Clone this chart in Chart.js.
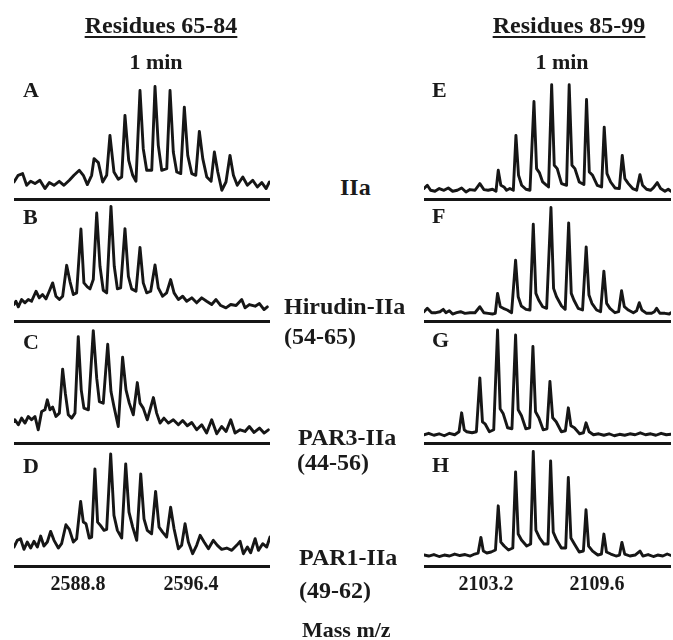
<!DOCTYPE html>
<html><head><meta charset="utf-8">
<script src="https://cdn.jsdelivr.net/npm/chart.js@4/dist/chart.umd.min.js"></script>
<style>
html,body{margin:0;padding:0;background:#fff;}
#wrap{position:relative;width:673px;height:640px;overflow:hidden;background:#fff;}
canvas{position:absolute;top:0;}
.t{position:absolute;font-family:"Liberation Serif","Times New Roman",serif;font-weight:bold;color:#1a1a1a;line-height:1;white-space:nowrap;z-index:2;}
.c{transform:translateX(-50%);}
.u{text-decoration:underline;text-decoration-thickness:2px;text-underline-offset:3px;}
</style></head>
<body><div id="wrap">
<canvas id="cl" width="285" height="640" style="left:0px"></canvas>
<canvas id="cr" width="273" height="640" style="left:400px"></canvas>
<div class="t c u" style="left:161px;top:13px;font-size:24px">Residues 65-84</div>
<div class="t c u" style="left:569px;top:13px;font-size:24px">Residues 85-99</div>
<div class="t c" style="left:156px;top:51px;font-size:22px">1 min</div>
<div class="t c" style="left:562px;top:51px;font-size:22px">1 min</div>
<div class="t" style="left:23px;top:79px;font-size:22px">A</div>
<div class="t" style="left:23px;top:206px;font-size:22px">B</div>
<div class="t" style="left:23px;top:331px;font-size:22px">C</div>
<div class="t" style="left:23px;top:455px;font-size:22px">D</div>
<div class="t" style="left:432px;top:79px;font-size:22px">E</div>
<div class="t" style="left:432px;top:205px;font-size:22px">F</div>
<div class="t" style="left:432px;top:329px;font-size:22px">G</div>
<div class="t" style="left:432px;top:454px;font-size:22px">H</div>
<div class="t" style="left:340px;top:175px;font-size:24px">IIa</div>
<div class="t" style="left:284px;top:294px;font-size:24px">Hirudin-IIa</div>
<div class="t" style="left:284px;top:324px;font-size:24px">(54-65)</div>
<div class="t" style="left:298px;top:425px;font-size:24px">PAR3-IIa</div>
<div class="t" style="left:297px;top:450px;font-size:24px">(44-56)</div>
<div class="t" style="left:299px;top:545px;font-size:24px">PAR1-IIa</div>
<div class="t" style="left:299px;top:578px;font-size:24px">(49-62)</div>
<div class="t" style="left:302px;top:619px;font-size:22px">Mass m/z</div>
</div>
<script>
const leftTicks = [2588.8, 2596.4];
const rightTicks = [2103.2, 2109.6];

const mzA = [2584.50, 2584.78, 2585.08, 2585.35, 2585.62, 2585.91, 2586.24, 2586.58, 2586.87, 2587.19, 2587.54, 2587.86, 2588.22, 2588.53, 2588.89, 2589.16, 2589.43, 2589.72, 2589.88, 2590.17, 2590.46, 2590.73, 2590.95, 2591.22, 2591.51, 2591.74, 2591.96, 2592.21, 2592.48, 2592.70, 2592.97, 2593.19, 2593.42, 2593.76, 2593.98, 2594.20, 2594.43, 2594.77, 2594.99, 2595.21, 2595.44, 2595.71, 2595.95, 2596.18, 2596.45, 2596.72, 2596.96, 2597.19, 2597.46, 2597.75, 2597.97, 2598.20, 2598.47, 2598.75, 2599.02, 2599.25, 2599.51, 2599.88, 2600.19, 2600.55, 2600.86, 2601.16, 2601.45, 2601.67];
const intA = [17.3, 24, 25.7, 14, 18, 15.7, 19, 10.7, 16.7, 14, 18, 14, 19, 24, 29, 24, 14.7, 24, 40.7, 36.7, 17.3, 24, 64, 27.3, 20, 22.3, 84, 39, 24, 18, 109, 50.7, 29, 29, 113, 54, 29, 30.7, 109, 47.3, 27.3, 25.7, 92.3, 44, 25.7, 24, 68, 40.7, 22.3, 18, 47.3, 27.3, 9, 17.3, 44, 24, 14, 22.3, 14, 19, 12.3, 16.7, 10.7, 17.3];

const mzB = [2584.50, 2584.63, 2584.79, 2585.01, 2585.24, 2585.46, 2585.68, 2585.98, 2586.20, 2586.42, 2586.65, 2586.87, 2587.10, 2587.32, 2587.55, 2587.77, 2588.04, 2588.26, 2588.49, 2588.71, 2589.00, 2589.20, 2589.43, 2589.61, 2589.83, 2590.06, 2590.28, 2590.50, 2590.73, 2591.02, 2591.24, 2591.45, 2591.67, 2591.96, 2592.19, 2592.41, 2592.70, 2592.97, 2593.19, 2593.42, 2593.69, 2593.98, 2594.20, 2594.49, 2594.76, 2595.03, 2595.26, 2595.55, 2595.84, 2596.11, 2596.45, 2596.78, 2597.12, 2597.45, 2597.79, 2598.08, 2598.40, 2598.75, 2599.07, 2599.43, 2599.81, 2600.03, 2600.32, 2600.71, 2601.00, 2601.31, 2601.53];
const intB = [17, 20.3, 14.7, 22, 18.7, 22, 20.3, 30.3, 23.7, 27, 22.7, 30.3, 38.7, 25.3, 22, 25.3, 56.3, 40.3, 27, 28.7, 92.7, 38.7, 34.7, 32.7, 42, 108.7, 55.3, 31.3, 28.7, 115.3, 55.3, 32.7, 33.7, 93, 45.3, 32.7, 30.3, 74.3, 38.7, 28.7, 30.3, 56.7, 33.7, 25.3, 28.7, 42, 28.7, 22, 25.3, 20.3, 23.7, 18.7, 23.7, 20.3, 17, 22, 16, 13.7, 17, 16, 22, 13.7, 17, 15.3, 18, 12, 14.7];

const mzC = [2584.50, 2584.56, 2584.79, 2585.01, 2585.24, 2585.46, 2585.68, 2585.91, 2586.13, 2586.36, 2586.58, 2586.74, 2586.92, 2587.10, 2587.32, 2587.55, 2587.77, 2587.95, 2588.15, 2588.38, 2588.60, 2588.82, 2589.02, 2589.20, 2589.50, 2589.83, 2590.06, 2590.24, 2590.50, 2590.80, 2591.02, 2591.22, 2591.51, 2591.80, 2592.03, 2592.25, 2592.52, 2592.79, 2592.97, 2593.19, 2593.46, 2593.87, 2594.09, 2594.32, 2594.58, 2594.88, 2595.21, 2595.55, 2595.84, 2596.15, 2596.45, 2596.78, 2597.12, 2597.45, 2597.79, 2598.13, 2598.46, 2598.76, 2599.07, 2599.36, 2599.70, 2600.03, 2600.32, 2600.64, 2601.00, 2601.31, 2601.60];
const intC = [22.3, 24, 19, 25.7, 20.7, 27.3, 24, 27.3, 14, 32.3, 34, 44, 34, 36.7, 27.3, 30.7, 74.7, 50.7, 29, 25.7, 30.7, 107.3, 54, 35.7, 34, 113.3, 65.7, 42.3, 40.7, 99.7, 52.3, 37.3, 17.3, 86.7, 54, 40.7, 29, 61.3, 40.7, 35.7, 24, 46.3, 30.7, 20.7, 25.7, 20.7, 24, 19, 23.3, 18, 21.3, 14, 19, 10.7, 24, 10, 17.3, 12.3, 24, 10.7, 14, 12.3, 17.3, 11.3, 15.7, 10.7, 14];

const mzD = [2584.50, 2584.72, 2584.94, 2585.17, 2585.39, 2585.62, 2585.84, 2586.07, 2586.29, 2586.51, 2586.74, 2586.96, 2587.19, 2587.48, 2587.70, 2587.99, 2588.22, 2588.49, 2588.71, 2588.98, 2589.16, 2589.34, 2589.56, 2589.72, 2589.94, 2590.12, 2590.31, 2590.55, 2590.73, 2591.00, 2591.22, 2591.45, 2591.74, 2592.01, 2592.23, 2592.48, 2592.75, 2593.02, 2593.24, 2593.46, 2593.75, 2594.02, 2594.25, 2594.49, 2594.76, 2595.03, 2595.26, 2595.55, 2595.77, 2596.00, 2596.22, 2596.51, 2596.78, 2597.01, 2597.28, 2597.57, 2597.90, 2598.17, 2598.46, 2598.80, 2599.14, 2599.47, 2599.70, 2599.92, 2600.19, 2600.41, 2600.71, 2600.93, 2601.22, 2601.49, 2601.71];
const intD = [19, 25.7, 27.3, 16.7, 24, 18, 24.7, 19, 30, 20, 24, 34.7, 25.7, 18, 22.3, 41.3, 36.7, 24, 27.3, 64.7, 44, 42.3, 28, 29, 97.3, 44, 40.7, 35.7, 36.7, 112.3, 50.7, 35.7, 28, 102.3, 54, 39, 25.7, 92.3, 47.3, 35.7, 32.3, 74.7, 39, 34, 29, 59, 37.3, 17.3, 20.7, 42.3, 24, 12.3, 20.7, 30.7, 24, 17.3, 25.7, 20.7, 16.7, 18, 15.7, 20.7, 24.7, 12.3, 19, 13.3, 27.3, 15.7, 22.3, 19, 29];

const mzE = [2099.63, 2099.82, 2100.01, 2100.26, 2100.51, 2100.78, 2101.03, 2101.28, 2101.55, 2101.80, 2102.05, 2102.28, 2102.57, 2102.85, 2103.08, 2103.33, 2103.58, 2103.78, 2103.91, 2104.06, 2104.24, 2104.39, 2104.58, 2104.78, 2104.93, 2105.08, 2105.26, 2105.51, 2105.74, 2105.97, 2106.12, 2106.28, 2106.47, 2106.70, 2106.81, 2106.99, 2107.14, 2107.31, 2107.56, 2107.85, 2108.00, 2108.16, 2108.33, 2108.58, 2108.85, 2109.00, 2109.16, 2109.35, 2109.62, 2109.87, 2110.02, 2110.18, 2110.39, 2110.64, 2110.89, 2111.06, 2111.21, 2111.41, 2111.66, 2111.89, 2112.08, 2112.23, 2112.46, 2112.69, 2112.85, 2113.08, 2113.27, 2113.52, 2113.71, 2113.87];
const intE = [10.7, 14, 9, 8, 10.7, 9, 11.3, 8, 9, 11.3, 7.3, 9.7, 9, 15.7, 9.7, 9, 10, 8, 29, 14, 12.3, 9, 10.7, 9, 64, 24, 14, 10, 9, 98, 30.7, 26.7, 17.3, 14, 12.3, 114.7, 34, 30.7, 15.7, 14, 114.7, 34, 30.7, 17.3, 14.7, 100, 27.3, 24, 14, 12.3, 72.3, 25.7, 17.3, 11.3, 10.7, 44, 20.7, 15.7, 10.7, 9, 24.7, 14, 10, 9, 11.3, 16.7, 10.7, 8, 10, 8];

const mzF = [2099.63, 2099.82, 2100.07, 2100.32, 2100.55, 2100.74, 2100.89, 2101.09, 2101.28, 2101.51, 2101.74, 2101.99, 2102.28, 2102.57, 2102.85, 2103.08, 2103.33, 2103.58, 2103.74, 2103.87, 2104.03, 2104.20, 2104.43, 2104.68, 2104.91, 2105.06, 2105.24, 2105.51, 2105.74, 2105.93, 2106.08, 2106.24, 2106.47, 2106.70, 2106.95, 2107.10, 2107.27, 2107.56, 2107.77, 2107.97, 2108.12, 2108.27, 2108.52, 2108.77, 2108.98, 2109.14, 2109.31, 2109.58, 2109.81, 2110.00, 2110.16, 2110.35, 2110.64, 2110.85, 2111.02, 2111.18, 2111.41, 2111.70, 2111.89, 2112.04, 2112.19, 2112.46, 2112.75, 2112.91, 2113.04, 2113.23, 2113.52, 2113.77, 2113.87];
const intF = [9.8, 13.2, 8.8, 8.8, 9.8, 12.2, 8.8, 10.8, 7.5, 8.8, 9.8, 8.2, 8.8, 8.8, 14.8, 8.8, 8.2, 7.5, 8.2, 28.2, 14.8, 13.2, 11.5, 8.8, 61.5, 24.8, 15.5, 12.2, 11.5, 97.5, 28.2, 21.5, 14.8, 13.2, 114.2, 33.2, 24.8, 15.5, 12.2, 98.8, 28.2, 21.5, 13.2, 11.5, 74.8, 26.5, 18.2, 11.5, 9.8, 50.5, 18.2, 13.2, 8.8, 9.8, 30.8, 14.8, 11.5, 8.8, 10.8, 18.8, 11.5, 8.2, 8.2, 9.8, 13.2, 8.2, 8.2, 7.5, 8.8];

const mzG = [2099.63, 2099.90, 2100.20, 2100.50, 2100.80, 2101.10, 2101.40, 2101.65, 2101.80, 2101.95, 2102.10, 2102.40, 2102.65, 2102.85, 2103.00, 2103.15, 2103.40, 2103.65, 2103.87, 2104.02, 2104.20, 2104.45, 2104.70, 2104.91, 2105.06, 2105.25, 2105.50, 2105.72, 2105.91, 2106.06, 2106.25, 2106.50, 2106.72, 2106.89, 2107.05, 2107.25, 2107.55, 2107.78, 2107.95, 2108.10, 2108.30, 2108.60, 2108.82, 2108.97, 2109.15, 2109.40, 2109.70, 2110.00, 2110.30, 2110.60, 2110.90, 2111.20, 2111.50, 2111.80, 2112.10, 2112.40, 2112.70, 2113.00, 2113.30, 2113.60, 2113.87];
const intG = [9, 10.5, 8.5, 10, 8, 10.5, 9, 12, 31, 14, 12, 11, 12, 66, 22, 20, 12, 14, 114, 35, 30, 16, 15, 109, 34, 28, 15, 16, 97.5, 32, 26, 14, 15, 62.5, 26, 22, 12, 13, 36, 18, 16, 10, 11, 21, 12, 9, 10, 8.5, 10, 8, 9.5, 8.5, 10, 9, 11, 9, 10, 8.5, 10.5, 9, 9.5];

const mzH = [2099.63, 2099.90, 2100.20, 2100.50, 2100.80, 2101.10, 2101.40, 2101.70, 2102.00, 2102.30, 2102.55, 2102.75, 2102.91, 2103.05, 2103.25, 2103.50, 2103.75, 2103.91, 2104.06, 2104.25, 2104.50, 2104.75, 2104.91, 2105.06, 2105.25, 2105.55, 2105.78, 2105.93, 2106.08, 2106.30, 2106.55, 2106.78, 2106.93, 2107.08, 2107.28, 2107.55, 2107.80, 2107.95, 2108.10, 2108.30, 2108.58, 2108.82, 2108.97, 2109.12, 2109.35, 2109.65, 2109.86, 2110.00, 2110.15, 2110.40, 2110.70, 2110.90, 2111.04, 2111.20, 2111.50, 2111.80, 2112.08, 2112.25, 2112.55, 2112.85, 2113.10, 2113.40, 2113.65, 2113.87];
const intH = [11, 10, 11.5, 9.5, 11, 10, 12, 10.5, 11.5, 10, 12, 13, 28.7, 15, 13, 14, 16, 60.3, 24, 20, 16, 18, 94.3, 32, 26, 20, 22, 114.7, 36, 28, 22, 22, 105.3, 34, 26, 18, 18, 88.7, 28, 22, 14, 15, 56.3, 20, 15, 11, 12, 32, 14, 12, 10, 11, 23.7, 12, 10, 11, 15, 10, 11.5, 9.5, 11, 10, 12, 10.5];

const INK = '#161616';
function pts(mz, it) { return mz.map((x, i) => ({x: x, y: it[i]})); }
function yAxis() {
  return {
    type: 'linear', position: 'left', stack: 'col', stackWeight: 1,
    min: 0, max: 122.5, display: true,
    ticks: {display: false},
    grid: {display: true, drawTicks: false, color: INK, lineWidth: 3},
    border: {display: false},
    afterBuildTicks: s => { s.ticks = [{value: 0}]; }
  };
}
function makeChart(id, sets, xmin, xmax, tickVals, padL, padR) {
  const scales = {
    x: {
      type: 'linear', position: 'bottom', min: xmin, max: xmax,
      grid: {display: false, drawTicks: false},
      border: {display: false},
      afterBuildTicks: s => { s.ticks = tickVals.map(v => ({value: v})); },
      ticks: {
        padding: 7, maxRotation: 0, autoSkip: false, color: '#1a1a1a',
        font: {family: '"Liberation Serif", "Times New Roman", serif', weight: 'bold', size: 20},
        callback: v => Number(v).toFixed(1)
      }
    }
  };
  // stacked left axes are laid out last-defined on top, so add them bottom panel first
  sets.slice().reverse().forEach(s => { scales[s.axis] = yAxis(); });
  new Chart(document.getElementById(id), {
    type: 'line',
    data: {
      datasets: sets.map(s => ({
        label: s.label, data: pts(s.mz, s.it), yAxisID: s.axis,
        borderColor: INK, borderWidth: 2.9, pointRadius: 0, tension: 0,
        fill: false, borderJoinStyle: 'round', borderCapStyle: 'round'
      }))
    },
    options: {
      responsive: false, animation: false, events: [],
      layout: {padding: {left: padL, right: padR, top: 77, bottom: 36}},
      plugins: {legend: {display: false}, tooltip: {enabled: false}},
      scales: scales
    }
  });
}
makeChart('cl', [
  {label: 'A', axis: 'yA', mz: mzA, it: intA},
  {label: 'B', axis: 'yB', mz: mzB, it: intB},
  {label: 'C', axis: 'yC', mz: mzC, it: intC},
  {label: 'D', axis: 'yD', mz: mzD, it: intD}
], 2584.50, 2601.71, leftTicks, 14, 15);
makeChart('cr', [
  {label: 'E', axis: 'yE', mz: mzE, it: intE},
  {label: 'F', axis: 'yF', mz: mzF, it: intF},
  {label: 'G', axis: 'yG', mz: mzG, it: intG},
  {label: 'H', axis: 'yH', mz: mzH, it: intH}
], 2099.63, 2113.87, rightTicks, 24, 2);
</script>
</body></html>
